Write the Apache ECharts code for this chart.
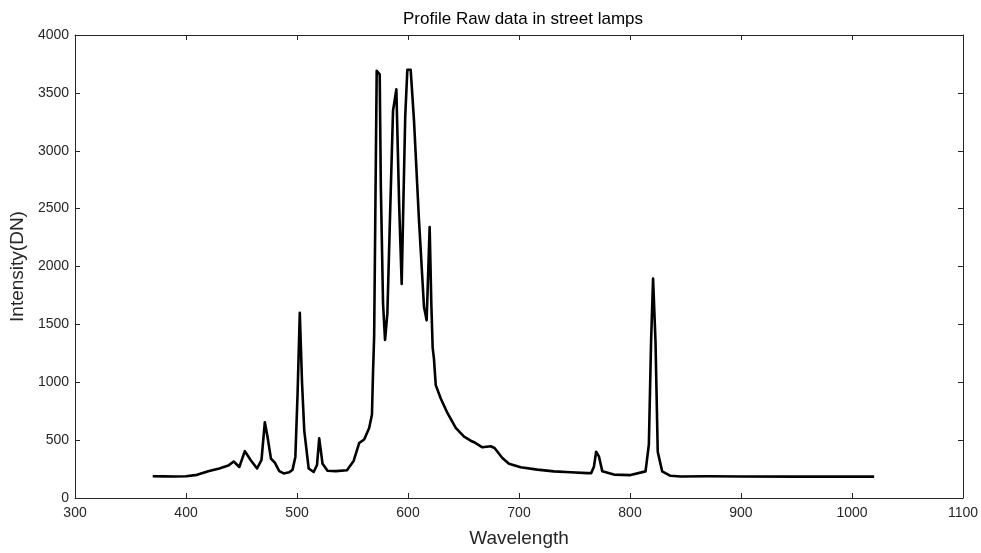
<!DOCTYPE html>
<html>
<head>
<meta charset="utf-8">
<script src="https://cdn.jsdelivr.net/npm/echarts@6/dist/echarts.min.js"></script>
<style>
html,body{margin:0;padding:0;background:#fff;}
#chart{width:981px;height:553px;}
</style>
</head>
<body>
<div id="chart"></div>
<script>
const wavelength = [370,380,390,400,410,420,430,438,443,448,453,458,464,468,471,473.5,476.5,480,484,488,493,496,498.5,500.5,502.5,504.5,506.5,510.5,515,518,520,523,527.5,535,545,551,556,560.5,565,567.5,568.5,569.5,570.5,571.8,574.5,575.5,577.5,579.3,581.4,584,586.5,589.5,592,594.3,595.8,597.5,599.4,602.4,605.4,609.9,614.4,616.8,619.5,621,622.2,623.4,625,629.5,635.5,643,650.5,656.5,659.5,667,674.5,678,685,691,701.5,716.5,731.5,746.5,761.5,765,767.5,769.5,772,775,785.5,800.5,814,817,819,820.8,823,825,829,836.5,845.5,870,900,950,1000,1020];
const intensity = [188,187,186,188,200,232,255,280,315,268,405,330,255,330,655,525,340,305,232,212,222,245,355,900,1600,1000,585,255,225,285,515,295,235,232,240,320,475,505,605,720,1090,1400,2400,3690,3660,2700,1680,1365,1595,2500,3345,3530,2540,1850,2540,3300,3700,3700,3260,2400,1650,1535,2340,1680,1300,1200,975,860,735,605,530,495,482,438,447,432,345,295,265,245,230,222,215,215,270,400,360,232,202,198,230,460,1350,1895,1350,400,230,192,186,188,186,185,185,185];
const xTicks = [300,400,500,600,700,800,900,1000,1100];
const yTicks = [0,500,1000,1500,2000,2500,3000,3500,4000];
const titleText = 'Profile Raw data in street lamps';
const xName = 'Wavelength';
const yName = 'Intensity(DN)';

const chart = echarts.init(document.getElementById('chart'));
const axisColor = '#262626';
const font = 'Liberation Sans, Arial, sans-serif';
const lineData = wavelength.map((w, i) => [w, intensity[i]]);
const baseAxis = {
  axisLine: {show: true, onZero: false, lineStyle: {color: axisColor, width: 1}},
  axisTick: {show: true, inside: true, length: 5, lineStyle: {color: axisColor}},
  splitLine: {show: false}
};
const fmt = v => String(v);
chart.setOption({
  animation: false,
  backgroundColor: '#ffffff',
  title: {
    text: titleText, left: 518, top: 6, textAlign: 'center',
    textStyle: {fontFamily: font, fontSize: 17, fontWeight: 'normal', color: '#000'}
  },
  grid: {left: 74, top: 35, right: 18, bottom: 50, containLabel: false},
  xAxis: [
    Object.assign({}, baseAxis, {
      type: 'value', min: xTicks[0], max: xTicks[xTicks.length-1], interval: 100,
      position: 'bottom',
      name: xName, nameLocation: 'middle', nameGap: 31,
      nameTextStyle: {fontFamily: font, fontSize: 19, color: axisColor},
      axisLabel: {fontFamily: font, fontSize: 14, color: axisColor, margin: 8, formatter: fmt}
    }),
    Object.assign({}, baseAxis, {
      type: 'value', min: xTicks[0], max: xTicks[xTicks.length-1], interval: 100,
      position: 'top', axisLabel: {show: false}
    })
  ],
  yAxis: [
    Object.assign({}, baseAxis, {
      type: 'value', min: yTicks[0], max: yTicks[yTicks.length-1], interval: 500,
      position: 'left',
      name: yName, nameLocation: 'middle', nameGap: 45, nameRotate: 90,
      nameTextStyle: {fontFamily: font, fontSize: 19, color: axisColor},
      axisLabel: {fontFamily: font, fontSize: 14, color: axisColor, margin: 6, formatter: fmt}
    }),
    Object.assign({}, baseAxis, {
      type: 'value', min: yTicks[0], max: yTicks[yTicks.length-1], interval: 500,
      position: 'right', axisLabel: {show: false}
    })
  ],
  series: [{
    type: 'line', data: lineData, xAxisIndex: 0, yAxisIndex: 0,
    showSymbol: false, smooth: false,
    lineStyle: {color: '#000000', width: 2.6, join: 'round'}
  }]
});
</script>
</body>
</html>
